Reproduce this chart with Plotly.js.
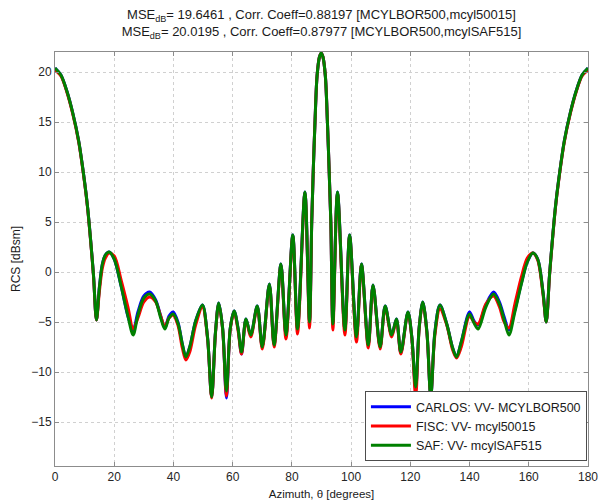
<!DOCTYPE html>
<html>
<head>
<meta charset="utf-8">
<script src="https://cdn.plot.ly/plotly-3.0.1.min.js"></script>
<style>html,body{margin:0;padding:0;background:#fff;}#chart{width:610px;height:504px;}</style>
</head>
<body>
<div id="chart"></div>
<script>
// Azimuth angles (degrees)
var azimuth = [0, 2, 4, 6, 8, 10, 11, 12, 13, 14, 15, 16, 17, 18.3, 20, 22.4, 24.7, 26.4, 28, 30, 32, 34, 35.7, 37.1, 38.5, 39.9, 41.5, 43, 44.2, 45.5, 47.5, 49.8, 51.5, 52.9, 54.2, 55.3, 56.6, 57.9, 59.2, 60.5, 61.8, 63.0, 64.5, 66.1, 68.3, 70.0, 72.4, 74.0, 76.3, 78.0, 80.3, 81.9, 84.4, 85.95, 86.7, 87.2, 87.8, 88.5, 89.3, 89.9, 90.5, 91.3, 92.0, 92.6, 93.15, 93.85, 95.4, 97.9, 99.5, 101.8, 103.5, 105.8, 107.4, 109.8, 111.5, 113.7, 115.3, 116.8, 119.2, 120.5, 121.8, 123.0, 124.2, 125.6, 126.9, 128.3, 130.0, 132.3, 134.3, 135.6, 137.2, 140.0, 141.5, 142.9, 145.5, 148.1, 150.1, 151.7, 153.3, 155.3, 157.5, 159.5, 161.4, 163.0, 164.8, 165.9, 167, 168, 169, 170, 172, 174, 176, 178, 180];

// CARLOS: VV- MCYLBOR500
var rcsCarlos = [20.4, 19.7, 18.1, 15.9, 13.1, 9.0, 6.5, 3.3, -0.3, -4.8, -1.5, 0.8, 1.7, 2.0, 1.3, -1.5, -4.5, -5.8, -4.0, -2.4, -2.0, -2.8, -4.4, -5.6, -4.4, -4.0, -5.0, -7.2, -8.5, -7.5, -4.9, -3.3, -6.5, -12.5, -6.0, -3.1, -5.6, -12.6, -5.6, -3.9, -5.6, -8.2, -4.7, -6.3, -3.4, -7.5, -1.2, -7.3, 0.8, -6.4, 3.7, -5.7, 8.0, -5.0, 5.0, 10.0, 15.0, 19.6, 21.5, 21.9, 21.5, 19.6, 15.0, 10.0, 5.0, -5.2, 8.0, -5.8, 3.7, -6.5, 0.8, -7.3, -1.3, -7.5, -3.4, -6.3, -4.7, -8.1, -4.0, -6.5, -11.8, -5.5, -3.0, -6.0, -12.5, -6.0, -3.3, -5.2, -7.6, -8.5, -7.0, -4.0, -4.9, -5.3, -3.3, -2.0, -3.0, -4.5, -5.8, -3.8, -1.1, 1.0, 1.9, 1.3, -2.0, -5.0, -0.3, 3.3, 6.5, 9.0, 13.1, 15.9, 18.1, 19.7, 20.4];

// FISC: VV- mcyl50015
var rcsFisc = [20.2, 19.6, 18.0, 15.8, 13.0, 8.9, 6.4, 3.2, -0.4, -4.8, -1.9, 0.4, 1.4, 1.9, 1.6, -0.9, -3.6, -5.7, -4.6, -3.0, -2.5, -3.0, -4.4, -5.5, -4.6, -4.3, -5.3, -7.6, -8.8, -8.0, -5.3, -3.5, -6.6, -12.6, -6.1, -3.2, -5.7, -12.4, -5.7, -4.0, -5.8, -8.2, -4.8, -6.5, -3.5, -7.7, -1.3, -7.5, 0.7, -6.7, 3.6, -6.2, 7.9, -5.6, 5.0, 10.0, 15.0, 19.6, 21.5, 21.9, 21.5, 19.6, 15.0, 10.0, 5.0, -5.8, 7.9, -6.3, 3.6, -7.0, 0.7, -7.6, -1.4, -7.7, -3.5, -6.5, -4.8, -8.2, -4.1, -6.6, -12.5, -5.6, -3.1, -6.1, -12.3, -6.3, -3.7, -5.3, -7.8, -8.6, -7.5, -4.4, -5.0, -5.2, -3.2, -2.4, -3.5, -5.0, -5.6, -3.2, -0.5, 1.4, 1.9, 1.2, -2.2, -5.0, -0.4, 3.2, 6.4, 8.9, 13.0, 15.8, 18.0, 19.6, 20.2];

// SAF: VV- mcylSAF515
var rcsSaf = [20.4, 19.7, 18.1, 15.9, 13.1, 9.0, 6.5, 3.3, -0.3, -4.8, -1.5, 0.8, 1.7, 2.0, 1.3, -1.5, -4.5, -6.3, -4.3, -2.6, -2.2, -2.9, -4.6, -5.7, -4.6, -4.2, -5.1, -7.2, -8.5, -7.5, -4.9, -3.3, -6.5, -12.5, -6.0, -3.1, -5.6, -11.9, -5.6, -3.9, -5.6, -8.0, -4.7, -6.3, -3.4, -7.5, -1.2, -7.3, 0.8, -6.3, 3.7, -5.7, 8.0, -5.0, 5.0, 10.0, 15.0, 19.6, 21.5, 21.9, 21.5, 19.6, 15.0, 10.0, 5.0, -5.2, 8.0, -5.8, 3.7, -6.5, 0.8, -7.3, -1.3, -7.5, -3.4, -6.3, -4.7, -8.0, -4.0, -6.5, -11.5, -5.5, -3.0, -6.0, -12.5, -6.0, -3.3, -5.2, -7.6, -8.5, -7.0, -4.2, -5.1, -5.7, -3.5, -2.2, -3.2, -4.8, -6.3, -4.0, -1.2, 1.0, 1.9, 1.3, -2.0, -5.0, -0.3, 3.3, 6.5, 9.0, 13.1, 15.9, 18.1, 19.7, 20.4];

var seriesNames = ['CARLOS: VV- MCYLBOR500', 'FISC: VV- mcyl50015', 'SAF: VV- mcylSAF515'];
var seriesColors = ['#0000ff', '#ff0000', '#008000'];
var seriesValues = [rcsCarlos, rcsFisc, rcsSaf];

var xTicks = [0, 20, 40, 60, 80, 100, 120, 140, 160, 180];
var yTicks = [-15, -10, -5, 0, 5, 10, 15, 20];

var titleLines = [
  'MSE<sub>dB</sub>= 19.6461 , Corr. Coeff=0.88197 [MCYLBOR500,mcyl50015]',
  'MSE<sub>dB</sub>= 20.0195 , Corr. Coeff=0.87977 [MCYLBOR500,mcylSAF515]'
];

var traces = seriesValues.map(function (vals, i) {
  return {
    type: 'scatter',
    mode: 'lines',
    x: azimuth,
    y: vals,
    name: seriesNames[i],
    line: {color: seriesColors[i], width: 3, shape: 'spline', smoothing: 0.9}
  };
});

var axisCommon = {
  showline: true,
  linecolor: '#8c8c8c',
  linewidth: 1,
  mirror: 'ticks',
  ticks: 'inside',
  ticklen: 4,
  tickcolor: '#8c8c8c',
  showgrid: true,
  gridcolor: '#d0d0d0',
  griddash: 'dot',
  gridwidth: 1,
  zeroline: false,
  tickfont: {size: 12, color: '#262626'}
};

var layout = {
  width: 610,
  height: 504,
  margin: {l: 55, r: 22, t: 52, b: 38},
  paper_bgcolor: '#ffffff',
  plot_bgcolor: '#ffffff',
  font: {family: '"Liberation Sans", Arial, sans-serif', size: 12, color: '#1a1a1a'},
  showlegend: true,
  title: {
    text: titleLines.join('<br>'),
    font: {size: 13, color: '#1a1a1a'},
    x: 0.527,
    xanchor: 'center',
    yref: 'container',
    y: 0.962,
    yanchor: 'middle'
  },
  xaxis: Object.assign({}, axisCommon, {
    range: [0, 180],
    tickvals: xTicks,
    title: {text: 'Azimuth, θ [degrees]', font: {size: 11.5, color: '#1a1a1a'}, standoff: 6}
  }),
  yaxis: Object.assign({}, axisCommon, {
    range: [-19.4, 22.0],
    tickvals: yTicks,
    title: {text: 'RCS [dBsm]', font: {size: 12, color: '#1a1a1a'}, standoff: 8}
  }),
  legend: {
    x: 0.998,
    xanchor: 'right',
    y: 0.012,
    yanchor: 'bottom',
    bgcolor: '#ffffff',
    bordercolor: '#4d4d4d',
    borderwidth: 1,
    itemwidth: 40,
    font: {size: 12.5, color: '#1a1a1a'},
    tracegroupgap: 0
  }
};

Plotly.newPlot('chart', traces, layout, {displayModeBar: false, staticPlot: true});
</script>
</body>
</html>
